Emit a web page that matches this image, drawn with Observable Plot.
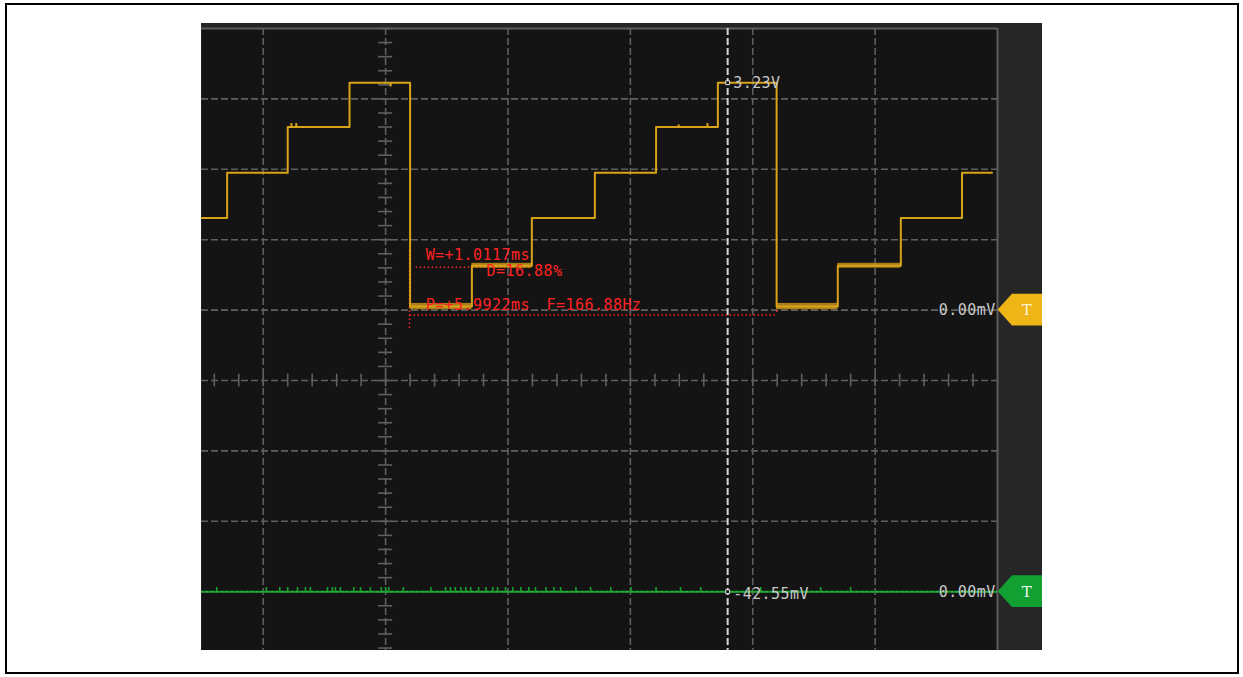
<!DOCTYPE html>
<html>
<head>
<meta charset="utf-8">
<script src="https://cdn.jsdelivr.net/npm/d3@7"></script>
<script src="https://cdn.jsdelivr.net/npm/@observablehq/plot@0.6"></script>
<style>
  html, body { margin: 0; padding: 0; background: #fff; }
  #frame { position: absolute; left: 5px; top: 3px; width: 1230px; height: 667px; border: 2px solid #000; }
  #scope { position: absolute; left: 201px; top: 23px; line-height: 0; }
</style>
</head>
<body>
<div id="frame"></div>
<div id="scope"></div>
<script>
// ---- Channel 1 (yellow): staircase, 1 V/div, 2 ms/div --------------------
// time of each edge (ms) and the level held after it (V)
const ch1EdgeTimes = [-3.01, -2.59, -1.60, -0.59, 0.40, 1.41, 2.39, 3.42, 4.42, 5.43, 6.39, 7.39, 8.42, 9.42];
const ch1Levels    = [1.31, 1.95, 2.60, 3.23, 0.05, 0.63, 1.31, 1.95, 2.60, 3.23, 0.05, 0.63, 1.31, 1.95];
const ch1EndTime   = 9.91;
// half-height (V) of the noisy band riding on each held level
const ch1NoiseBand = [0, 0, 0, 0, 0.045, 0.035, 0, 0, 0, 0, 0.045, 0.035, 0, 0];
// short glitches on the trace: time (ms), level (V), excursion (V)
const glitchTimes  = [-1.54, -1.46, 0.08, 4.79, 5.26];
const glitchLevels = [2.60, 2.60, 3.23, 2.60, 2.60];
const glitchSizes  = [0.05, 0.05, -0.06, 0.03, 0.05];

// ---- Channel 2 (green): flat trace with small spikes ----------------------
const ch2Level = 0;          // mV
const ch2SpikeTimes = [-2.76, -1.95, -1.73, -1.60, -1.44, -1.31, -1.23, -0.95, -0.87, -0.82, -0.74,
  -0.52, -0.41, -0.25, -0.07, 0.00, 0.05, 0.29, 0.74, 0.98, 1.06, 1.14, 1.23, 1.31, 1.39, 1.52,
  1.64, 1.75, 1.83, 1.96, 2.08, 2.21, 2.34, 2.45, 2.62, 2.75, 2.86, 3.11, 3.35, 3.68, 4.01, 4.42,
  4.82, 5.15, 6.13, 7.11, 7.60];

// ---- Measurements and readouts --------------------------------------------
const widthLabel  = "W=+1.0117ms";
const dutyLabel   = "D=16.88%";
const periodLabel = "P=+5.9922ms";
const freqLabel   = "F=166.88Hz";
const periodMs    = 5.9922;
const measureStart = 0.40;   // ms, falling edge where the measurement starts
const cursorTime  = 5.59;    // ms
const cursorCh1   = 3.23;    // V
const cursorCh1Label = "3.23V";
const cursorCh2Label = "-42.55mV";
const zeroLabel   = "0.00mV";

// ---- Graticule -------------------------------------------------------------
const gridTimes = [-2, 0, 2, 4, 6, 8];          // ms
const gridDivs  = [-3, -2, -1, 0, 1, 2, 3, 4];  // divisions

// vertical positions in divisions: ch1 ground sits 1 div above centre, ch2 ground 3 below
const ch1Offset = 1;     // div
const ch2Offset = -3;    // div
const ch1 = v => v + ch1Offset;          // 1 V/div
const ch2 = mv => mv / 1000 + ch2Offset;

// build the step series
const ch1Points = ch1EdgeTimes.map((t, i) => ({t, y: ch1(ch1Levels[i])}));
ch1Points.push({t: ch1EndTime, y: ch1(ch1Levels[ch1Levels.length - 1])});
const ch1Bands = ch1EdgeTimes.map((t, i) => ({
  t1: t, t2: i + 1 < ch1EdgeTimes.length ? ch1EdgeTimes[i + 1] : ch1EndTime,
  lo: ch1(ch1Levels[i] - ch1NoiseBand[i]), hi: ch1(ch1Levels[i] + ch1NoiseBand[i]), b: ch1NoiseBand[i]
})).filter(d => d.b > 0);
const glitches = glitchTimes.map((t, i) => ({t, y1: ch1(glitchLevels[i]), y2: ch1(glitchLevels[i] + glitchSizes[i])}));

// minor ticks along the two centre lines (1/5 division)
const minorY = d3.range(-19, 26).map(k => k / 5);
const minorX = d3.range(-7, 25).map(k => k * 0.4);

const YEL = "#d9a21b", GRN = "#18a02e", RED = "#ff2222", LBL = "#c9c9c9", GRID = "#5f5f5f";
const FONT = "DejaVu Sans Mono, Liberation Mono, monospace";

// trigger flags at the right edge (pentagon pointing left)
const flagShape = (y0) => [
  {x: 10.01, y1: y0, y2: y0},
  {x: 10.245, y1: y0 - 0.225, y2: y0 + 0.225},
  {x: 10.80, y1: y0 - 0.225, y2: y0 + 0.225}
];

const label = (txt, x, y, fill, anchor = "start") =>
  Plot.text([txt], {x, y, text: d => d, textAnchor: anchor, fill, fontSize: 15, fontFamily: FONT});

const chart = Plot.plot({
  width: 841,
  height: 627,
  marginLeft: 0,
  marginRight: 45,
  marginTop: 5,
  marginBottom: 0,
  x: {domain: [-3.009, 10], axis: null},
  y: {domain: [-3.835, 5], axis: null},
  style: {background: "#262626", overflow: "hidden", letterSpacing: "0.45px"},
  marks: [
    Plot.frame({fill: "#141414", stroke: "none"}),
    // graticule
    Plot.ruleX(gridTimes, {stroke: GRID, strokeWidth: 1.6, strokeDasharray: "7,3"}),
    Plot.ruleY(gridDivs, {stroke: GRID, strokeWidth: 1.6, strokeDasharray: "7,3"}),
    Plot.ruleY(minorY, {x1: -0.115, x2: 0.115, stroke: GRID, strokeWidth: 1.6}),
    Plot.ruleX(minorX, {y1: -0.09, y2: 0.09, stroke: GRID, strokeWidth: 1.6}),
    Plot.ruleY([5], {stroke: "#5c5c5c", strokeWidth: 2}),
    Plot.ruleX([10], {stroke: "#5c5c5c", strokeWidth: 2}),
    // time cursor
    Plot.ruleX([cursorTime], {stroke: "#d6d6d6", strokeWidth: 2, strokeDasharray: "7,3"}),
    // measurement guides
    Plot.ruleY([ch1(0.61)], {x1: measureStart + 0.1, x2: 2.37, stroke: RED, strokeWidth: 1.5, strokeDasharray: "1.5,2.5"}),
    Plot.ruleY([ch1(-0.07)], {x1: measureStart, x2: measureStart + periodMs, stroke: RED, strokeWidth: 1.5, strokeDasharray: "1.5,2.5"}),
    Plot.ruleX([measureStart - 0.01], {y1: ch1(0.84), y2: ch1(-0.27), stroke: RED, strokeWidth: 1.5, strokeDasharray: "1.5,2.5"}),
    Plot.ruleX([measureStart + periodMs], {y1: ch1(0.1), y2: ch1(-0.07), stroke: RED, strokeWidth: 1.5, strokeDasharray: "1.5,2.5"}),
    // channel 2
    Plot.ruleY([ch2(ch2Level)], {stroke: GRN, strokeWidth: 2}),
    Plot.ruleY([ch2(ch2Level)], {stroke: "#4fd266", strokeWidth: 0.8, strokeDasharray: "2,3", strokeOpacity: 0.7}),
    Plot.ruleX(ch2SpikeTimes, {y1: ch2(ch2Level), y2: ch2(ch2Level) + 0.06, stroke: GRN, strokeWidth: 1.6}),
    // channel 1
    Plot.rect(ch1Bands, {x1: "t1", x2: "t2", y1: "lo", y2: "hi", fill: YEL, fillOpacity: 0.75}),
    Plot.line(ch1Points, {x: "t", y: "y", curve: "step-after", stroke: YEL, strokeWidth: 2}),
    Plot.ruleX(glitches, {x: "t", y1: "y1", y2: "y2", stroke: YEL, strokeWidth: 2}),
    // cursor readouts
    Plot.dot([{t: cursorTime, y: ch1(cursorCh1)}, {t: cursorTime, y: ch2(ch2Level)}],
      {x: "t", y: "y", symbol: "square", r: 2.2, stroke: "#e0e0e0", fill: "#141414", strokeWidth: 1}),
    label(cursorCh1Label, cursorTime + 0.09, ch1(cursorCh1), LBL),
    label(cursorCh2Label, cursorTime + 0.09, ch2(ch2Level) - 0.03, LBL),
    label(zeroLabel, 9.97, ch1(0), LBL, "end"),
    label(zeroLabel, 9.97, ch2(0), LBL, "end"),
    // measurement labels
    label(widthLabel, 0.654, ch1(0.78), RED),
    label(dutyLabel, 1.65, ch1(0.55), RED),
    label(periodLabel, 0.654, ch1(0.07), RED),
    label(freqLabel, 2.63, ch1(0.07), RED),
    // trigger flags
    Plot.areaY(flagShape(ch1(0)), {x: "x", y1: "y1", y2: "y2", fill: "#efb416"}),
    Plot.areaY(flagShape(ch2(0)), {x: "x", y1: "y1", y2: "y2", fill: "#12a033"}),
    Plot.text(["T"], {x: 10.48, y: ch1(0), text: d => d, fill: "#fbf3dc", fontSize: 15, fontFamily: "DejaVu Serif, serif"}),
    Plot.text(["T"], {x: 10.48, y: ch2(0), text: d => d, fill: "#eaf6ea", fontSize: 15, fontFamily: "DejaVu Serif, serif"})
  ]
});
document.getElementById("scope").appendChild(chart);
</script>
</body>
</html>
